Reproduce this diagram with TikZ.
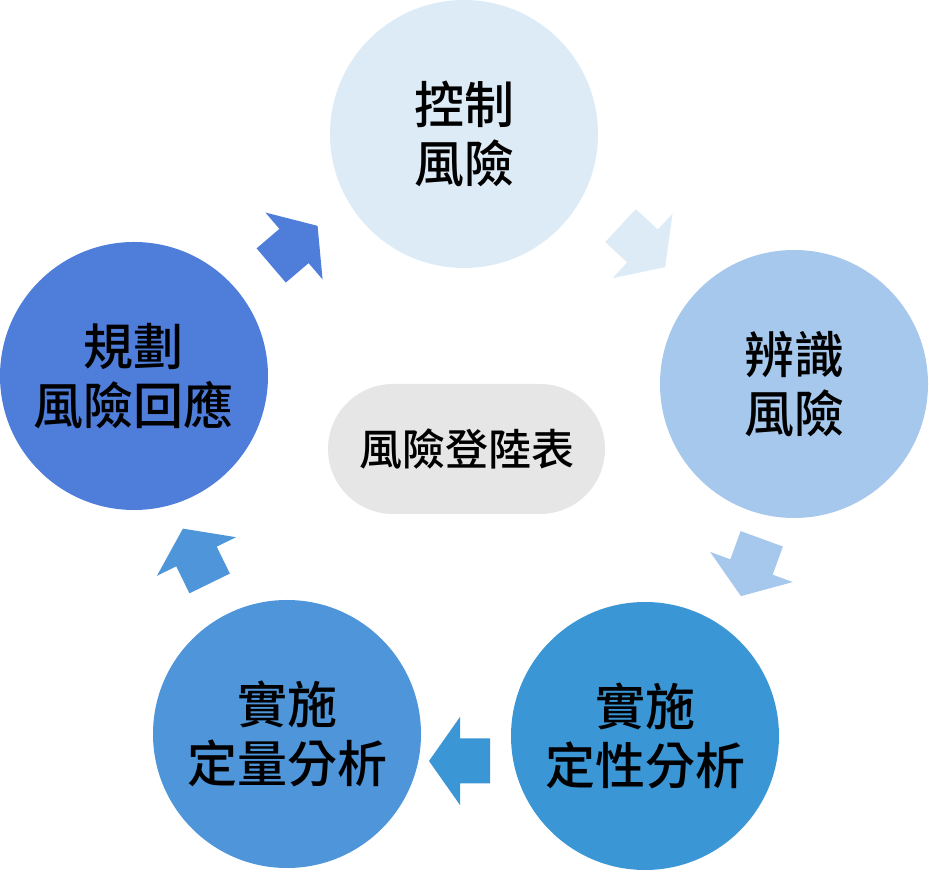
\documentclass[tikz,border=0pt]{standalone}
\usepackage{fontspec}
\newfontfamily\cjk{Noto Sans CJK TC}[UprightFont={* Medium},BoldFont={* Medium}]
\usepackage{tikz}
\usetikzlibrary{positioning,shapes.misc}
\definecolor{riskpale}{RGB}{221,235,247}
\definecolor{risklight}{RGB}{165,200,236}
\definecolor{riskmid}{RGB}{58,150,212}
\definecolor{risksoft}{RGB}{79,149,218}
\definecolor{riskdeep}{RGB}{79,125,218}
\definecolor{riskgrey}{RGB}{230,230,230}

\tikzset{
  stage/.style={circle, minimum size=268pt, inner sep=0pt, align=center,
    font=\cjk\bfseries\fontsize{50}{59}\selectfont, text=black},
  register/.style={rounded rectangle, fill=riskgrey, minimum width=277pt,
    minimum height=130pt, inner sep=0pt, font=\cjk\bfseries\fontsize{43}{50}\selectfont}
}

\begin{document}
\begin{tikzpicture}[x=1pt,y=1pt]
  \useasboundingbox (0,0) rectangle (929,872);

  % ── Cycle stages ──
  \node[stage, fill=riskpale]  (control)  at (464,738) {控制\\風險};
  \node[stage, fill=risklight] (identify) at (794,488) {辨識\\風險};
  \node[stage, fill=riskmid]   (quali)    at (645,136) {實施\\定性分析};
  \node[stage, fill=risksoft]  (quanti)   at (287,138) {實施\\定量分析};
  \node[stage, fill=riskdeep]  (respond)  at (134,496) {規劃\\風險回應};

  % ── Centre ──
  \node[register] (reg) at (466.5,423) {風險登陸表};

  % ── Block arrows between stages ──
  \foreach \px/\py/\ang/\col in {294/626/40.5/riskdeep, 642.5/626/-43/riskpale,
      751.5/305/-110/risklight, 460/111/180/riskmid, 196.5/315.5/116/risksoft}
    \fill[\col, shift={(\px,\py)}, rotate=\ang]
      (-30,-22.5) -- (0,-22.5) -- (0,-44) -- (31,0) -- (0,44) -- (0,22.5) -- (-30,22.5) -- cycle;
\end{tikzpicture}
\end{document}
